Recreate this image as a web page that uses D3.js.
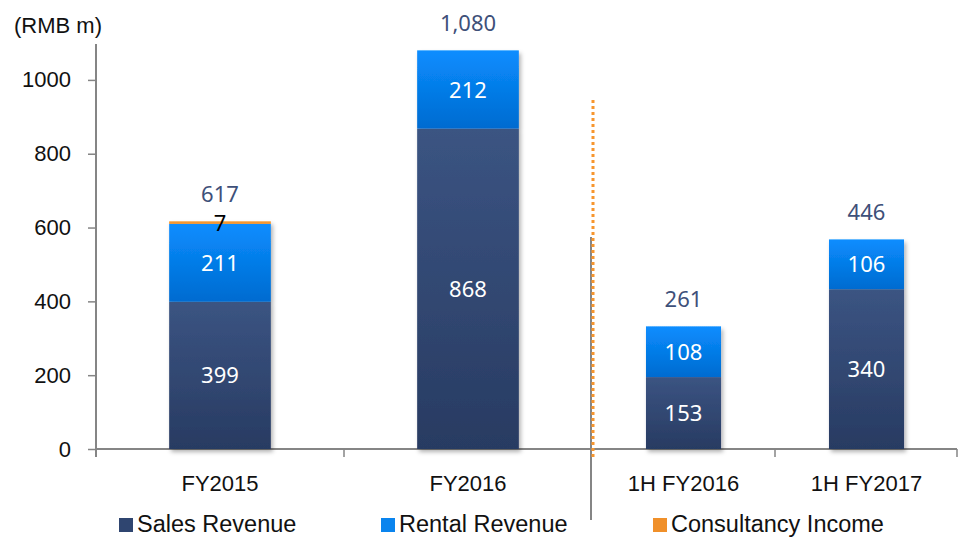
<!DOCTYPE html>
<html>
<head>
<meta charset="utf-8">
<script src="https://cdn.jsdelivr.net/npm/d3@7"></script>
<style>
  body { margin: 0; background: #fff; }
  svg { display: block; }
  text { font-family: "Liberation Sans", Arial, sans-serif; }
  .lbl { font-family: "Noto Sans", sans-serif; }
</style>
</head>
<body>
<div id="chart"></div>
<script>
// values
const categories = ["FY2015", "FY2016", "1H FY2016", "1H FY2017"];
const salesRevenue = [399, 868, 153, 340];
const rentalRevenue = [211, 212, 108, 106];
const consultancyIncome = [7, 0, 0, 0];
const yTicks = [0, 200, 400, 600, 800, 1000];
const seriesNames = ["Sales Revenue", "Rental Revenue", "Consultancy Income"];

const width = 958, height = 537;
const y0 = 449, yTop = 43;

const svg = d3.select("#chart").append("svg")
  .attr("width", width)
  .attr("height", height);

const defs = svg.append("defs");
function grad(id, top, bottom) {
  const g = defs.append("linearGradient").attr("id", id)
    .attr("x1", 0).attr("y1", 0).attr("x2", 0).attr("y2", 1);
  g.append("stop").attr("offset", "0%").attr("stop-color", top);
  g.append("stop").attr("offset", "100%").attr("stop-color", bottom);
}
grad("gSales", "#3b5482", "#283b62");
grad("gRental", "#0a8dff", "#006bd0");
grad("gCons", "#f9a23c", "#ee8a22");

defs.append("filter").attr("id", "shadow")
  .attr("x", "-10%").attr("y", "-10%").attr("width", "130%").attr("height", "130%")
  .append("feDropShadow")
  .attr("dx", 2).attr("dy", 3).attr("stdDeviation", 2)
  .attr("flood-color", "#000").attr("flood-opacity", 0.3);

const colours = ["url(#gSales)", "url(#gRental)", "url(#gCons)"];
const legendColours = ["#2f4570", "#0a84ee", "#f0902a"];

// two panels: full years on the left axis, half years on their own (hidden) scale
const yLeft = d3.scaleLinear().domain([0, 1100]).range([y0, yTop]);
const yRight = d3.scaleLinear().domain([0, 864]).range([y0, yTop]);

const xLeft = d3.scaleBand().domain(categories.slice(0, 2))
  .range([96, 592]).paddingInner(0.59).paddingOuter(0.295);
const xRight = d3.scaleBand().domain(categories.slice(2))
  .range([592, 958]).paddingInner(0.59).paddingOuter(0.295);

const rows = categories.map((c, i) => ({
  cat: c,
  vals: [salesRevenue[i], rentalRevenue[i], consultancyIncome[i]],
  x: i < 2 ? xLeft : xRight,
  y: i < 2 ? yLeft : yRight
}));

// axes
const axisCol = "#858585";
svg.append("text").attr("x", 14).attr("y", 33)
  .attr("font-size", 22).attr("fill", "#111").text("(RMB m)");

const gy = svg.append("g").attr("transform", "translate(96,0)")
  .call(d3.axisLeft(yLeft).tickValues(yTicks).tickFormat(d3.format("d"))
    .tickSize(8).tickPadding(17).tickSizeOuter(0));
gy.select(".domain").attr("stroke", axisCol).attr("stroke-width", 2)
  .attr("d", `M0,${yTop + 1}V${y0 + 8}`);
gy.selectAll(".tick line").attr("stroke", axisCol).attr("stroke-width", 1.5);
gy.selectAll(".tick text").attr("font-size", 22).attr("fill", "#111")
  .attr("font-family", "Liberation Sans, Arial, sans-serif");

svg.append("line").attr("x1", 96).attr("x2", 957).attr("y1", y0).attr("y2", y0)
  .attr("stroke", axisCol).attr("stroke-width", 2);
[344, 775, 957].forEach(x => {
  svg.append("line").attr("x1", x).attr("x2", x).attr("y1", y0).attr("y2", y0 + 8)
    .attr("stroke", axisCol).attr("stroke-width", 1.5);
});
svg.append("line").attr("x1", 591).attr("x2", 591).attr("y1", 237).attr("y2", 520)
  .attr("stroke", axisCol).attr("stroke-width", 2);

// bars
rows.forEach(r => {
  const g = svg.append("g").attr("filter", "url(#shadow)");
  const bx = r.x(r.cat), bw = r.x.bandwidth();
  let acc = 0;
  r.vals.forEach((v, k) => {
    if (!v) return;
    g.append("rect")
      .attr("x", bx).attr("width", bw)
      .attr("y", r.y(acc + v))
      .attr("height", r.y(acc) - r.y(acc + v))
      .attr("fill", colours[k]);
    acc += v;
  });
});

// labels
const fmt = d3.format(",");
rows.forEach(r => {
  const cx = r.x(r.cat) + r.x.bandwidth() / 2;
  let acc = 0;
  r.vals.forEach((v, k) => {
    if (!v) return;
    const mid = r.y(acc + v / 2);
    svg.append("text").attr("class", "lbl")
      .attr("x", cx).attr("y", mid + 8)
      .attr("text-anchor", "middle").attr("font-size", 22)
      .attr("fill", k === 2 ? "#000" : "#fff")
      .text(fmt(v));
    acc += v;
  });
  svg.append("text").attr("class", "lbl")
    .attr("x", cx).attr("y", r.y(acc) - 19)
    .attr("text-anchor", "middle").attr("font-size", 22)
    .attr("fill", "#3e5079")
    .text(fmt(acc));

  svg.append("text")
    .attr("x", cx).attr("y", 491)
    .attr("text-anchor", "middle").attr("font-size", 22)
    .attr("font-family", "Noto Sans, sans-serif")
    .attr("fill", "#111").text(r.cat);
});

// dotted divider
svg.append("line").attr("x1", 593).attr("x2", 593).attr("y1", 100).attr("y2", 458)
  .attr("stroke", "#f7962e").attr("stroke-width", 3).attr("stroke-dasharray", "3,3");

// legend
const legendX = [119, 381, 653];
const lg = svg.append("g");
seriesNames.forEach((n, i) => {
  lg.append("rect").attr("x", legendX[i]).attr("y", 518)
    .attr("width", 14).attr("height", 14).attr("fill", legendColours[i]);
  lg.append("text").attr("x", legendX[i] + 18).attr("y", 532)
    .attr("font-size", 23.5).attr("fill", "#111").text(n);
});
</script>
</body>
</html>
